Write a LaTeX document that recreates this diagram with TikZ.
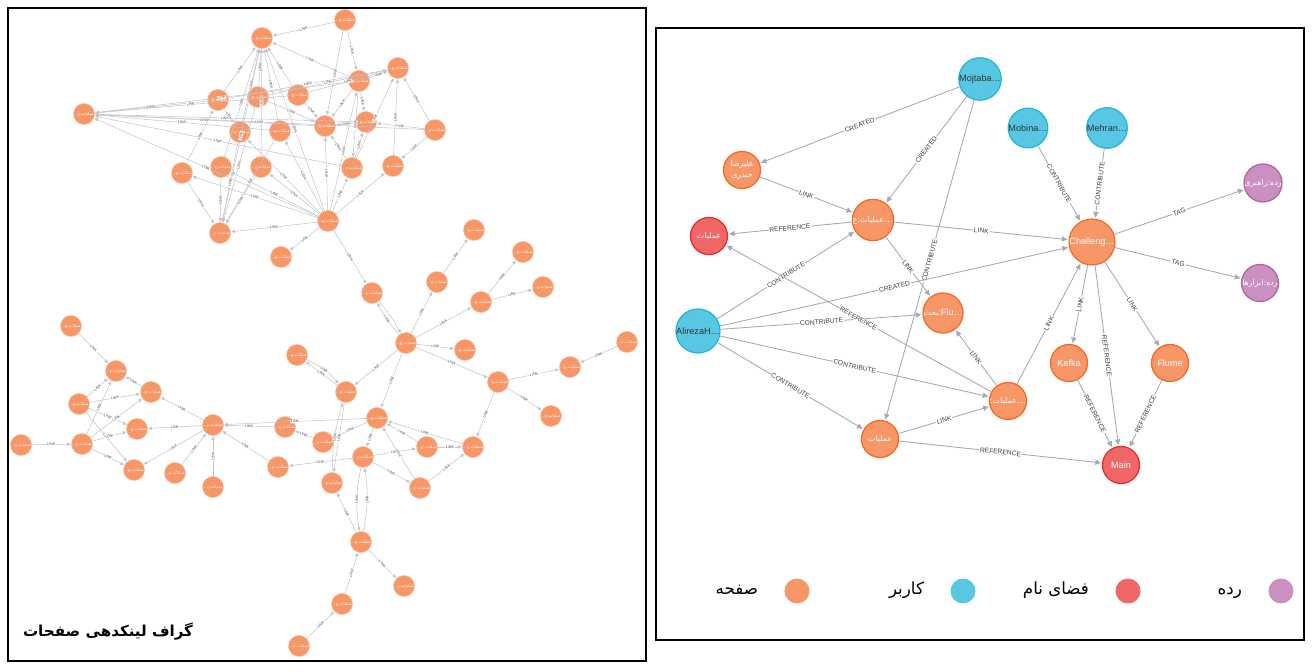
\documentclass[tikz,border=0pt]{standalone}
\usepackage{fontspec}
\setmainfont{Liberation Sans}
\newfontfamily\arabicfont[Script=Arabic]{DejaVu Sans}
\TeXXeTstate=1
\usetikzlibrary{arrows.meta,positioning}

\newcommand{\pers}[1]{{\arabicfont\beginR #1\endR}}
\newcommand{\npers}[1]{{\fontsize{4.5}{5.4}\selectfont\pers{#1}}}

\definecolor{pageC}{HTML}{F79767}
\definecolor{pageB}{HTML}{F36924}
\definecolor{userC}{HTML}{57C7E3}
\definecolor{userB}{HTML}{23B3D7}
\definecolor{nsC}{HTML}{F16667}
\definecolor{nsB}{HTML}{EB2728}
\definecolor{catC}{HTML}{C990C0}
\definecolor{catB}{HTML}{B261A5}
\definecolor{edgeC}{HTML}{A5ABB6}
\definecolor{edgeL}{HTML}{BFC4CC}

\tikzset{
  pgdot/.style={circle,fill=pageC,draw=pageB!45,line width=0.3pt,minimum size=0.42cm,
    inner sep=0pt,text=white,font=\fontsize{2.3}{2.6}\selectfont},
  lnk/.style={draw=edgeL,line width=0.3pt,-{Triangle[length=2pt,width=1.8pt]},shorten >=0.3pt},
  lnklbl/.style={midway,sloped,fill=white,inner sep=0.3pt,font=\fontsize{2.1}{2.3}\selectfont,text=black!70},
  gnode/.style={circle,minimum size=0.74cm,inner sep=0pt,line width=0.7pt,align=center,
    font=\fontsize{5.2}{6}\selectfont},
  page/.style={gnode,fill=pageC,draw=pageB,text=white},
  user/.style={gnode,fill=userC,draw=userB,text=black!80},
  nspace/.style={gnode,fill=nsC,draw=nsB,text=white},
  cat/.style={gnode,fill=catC,draw=catB,text=white},
  rel/.style={draw=edgeC,line width=0.5pt,-{Triangle[length=3.2pt,width=3pt]},shorten >=0.6pt},
  rlbl/.style={midway,sloped,fill=white,inner sep=0.5pt,font=\fontsize{3.8}{4.3}\selectfont,text=black!75},
  legdot/.style={circle,minimum size=0.5cm,inner sep=0pt},
  legtxt/.style={font=\arabicfont\fontsize{9.5}{11}\selectfont,text height=7pt,text depth=2.5pt,
    left=0.4cm of #1}
}

\begin{document}
\begin{tikzpicture}[x=0.02cm,y=-0.02cm]
\useasboundingbox (0,0) rectangle (1313,672);

% panels
\draw[line width=1.1pt] (8,8) rectangle (646,661);
\draw[line width=1.1pt] (656,28) rectangle (1304,640);

% page link graph
\foreach \n/\x/\y in {t1/345/20,t2/262/38,t3/398/68,t4/359/81,t5/84/114,t6/218/100,
  t7/258/97,t8/298/95,t9/325/126,t10/366/122,t11/435/130,t12/240/132,t13/280/131,
  t14/182/173,t15/221/167,t16/261/167,t17/352/168,t18/393/166,t19/328/221,t20/220/233,
  t21/281/257,
  b3/474/230,b4/372/293,b5/437/282,b6/523/252,b7/481/302,b8/543/287,b9/406/343,
  b10/465/350,b11/627/342,b12/570/367,b13/498/382,b14/297/355,b15/346/392,b16/551/416,
  b17/377/418,b18/285/427,b19/323/442,b20/427/447,b21/473/447,b22/363/457,b23/278/467,
  b24/332/483,b25/420/488,b26/361/542,b27/404/586,b28/342/604,b29/299/646,
  c1/71/326,c2/116/371,c3/151/392,c4/79/404,c5/137/429,c6/21/445,c7/82/444,
  c8/213/425,c9/134/470,c10/175/473,c11/213/487}
  \node[pgdot] (\n) at (\x,\y) {\pers{عملیات:ع…}};

\foreach \a/\b in {t1/t2,t1/t4,t1/t9,t6/t2,t7/t2,t12/t2,t13/t2,t15/t2,t16/t2,t19/t2,
  t4/t2,t8/t2,t2/t20,t7/t20,t12/t20,t15/t20,t14/t20,t19/t20,t16/t20,t13/t20,
  t6/t3,t8/t3,t4/t3,t11/t3,t17/t3,t18/t3,t7/t3,t4/t9,t4/t10,t4/t17,t8/t9,t7/t9,
  t10/t9,t11/t10,t11/t18,t17/t9,t17/t10,t6/t5,t8/t5,t4/t5,t9/t5,t10/t5,t11/t5,
  t17/t5,t19/t5,t13/t5,t19/t14,t19/t15,t19/t16,t19/t17,t19/t18,t19/t9,t19/t12,
  t19/t21,t19/t4,t19/t13,t14/t6,t6/t12,
  t19/b4,b9/b5,b5/b3,b9/b7,b7/b6,b7/b8,b9/b10,b9/b13,b11/b12,b13/b12,b13/b16,
  b13/b21,b9/b15,b15/b14,b9/b17,b17/c8,b18/c8,b19/b18,b17/b19,b15/b24,b17/b22,
  b22/b23,b22/b20,b22/b25,b20/b17,b21/b17,b20/b21,b25/b21,b25/b17,b26/b24,b26/b27,
  b28/b26,b29/b28,b23/c8,
  c1/c2,c3/c2,c8/c3,c4/c2,c4/c3,c4/c5,c4/c9,c6/c7,c7/c2,c7/c3,c7/c5,c7/c9,c8/c5,
  c8/c9,c10/c8,c11/c8}
  \draw[lnk] (\a) -- node[lnklbl]{LINK} (\b);

\draw[lnk] (b9) to[bend left=6] node[lnklbl]{LINK} (b4);
\draw[lnk] (b4) to[bend left=6] (b9);
\draw[lnk] (b14) to[bend left=12] node[lnklbl]{LINK} (b15);
\draw[lnk] (b24) to[bend left=8] node[lnklbl]{LINK} (b15);
\draw[lnk] (b22) to[bend right=10] node[lnklbl]{LINK} (b26);
\draw[lnk] (b26) to[bend right=10] node[lnklbl]{LINK} (b22);

\node[font=\arabicfont\bfseries\fontsize{8.6}{10}\selectfont] (title) at (108,631)
  {\pers{گراف لینکدهی صفحات}};

% wiki schema graph
\node[user] (mojtaba) at (980,79) {Mojtaba…};
\node[user] (mobina) at (1028,128) {Mobina…};
\node[user] (mehran) at (1107,128) {Mehran…};
\node[page] (heydari) at (742,170) {\npers{علیرضا}\\\npers{حیدری}};
\node[page] (amalA) at (873,220) {\npers{عملیات:ع}…};
\node[nspace] (amalNs) at (709,236) {\npers{عملیات}};
\node[page] (chall) at (1092,242) {Challeng…};
\node[cat] (cat1) at (1263,183) {\npers{رده:راهبری}};
\node[cat] (cat2) at (1260,283) {\npers{رده:ابزارها}};
\node[user] (alireza) at (698,331) {AlirezaH…};
\node[page] (fluTalk) at (943,313) {\npers{بحث}:Flu…};
\node[page] (kafka) at (1069,363) {Kafka};
\node[page] (flume) at (1170,363) {Flume};
\node[page] (amalB) at (1008,401) {\npers{عملیات:}…};
\node[page] (amalC) at (880,439) {\npers{عملیات}};
\node[nspace] (mainNs) at (1121,465) {Main};

\foreach \a/\b/\l in {mojtaba/heydari/CREATED,mojtaba/amalA/CREATED,
  mojtaba/amalC/CONTRIBUTE,mobina/chall/CONTRIBUTE,mehran/chall/CONTRIBUTE,
  heydari/amalA/LINK,amalA/amalNs/REFERENCE,amalA/chall/LINK,amalA/fluTalk/LINK,
  chall/cat1/TAG,chall/cat2/TAG,alireza/amalA/CONTRIBUTE,alireza/chall/CREATED,
  alireza/fluTalk/CONTRIBUTE,alireza/amalB/CONTRIBUTE,alireza/amalC/CONTRIBUTE,
  amalB/amalNs/REFERENCE,amalB/fluTalk/LINK,amalB/chall/LINK,chall/kafka/LINK,
  chall/flume/LINK,chall/mainNs/REFERENCE,kafka/mainNs/REFERENCE,
  flume/mainNs/REFERENCE,amalC/amalB/LINK,amalC/mainNs/REFERENCE}
  \draw[rel] (\a) -- node[rlbl]{\l} (\b);

% legend
\node[legdot,fill=pageC] (lgPage) at (797,591) {};
\node[legdot,fill=userC] (lgUser) at (963,591) {};
\node[legdot,fill=nsC] (lgNs) at (1128,591) {};
\node[legdot,fill=catC] (lgCat) at (1281,591) {};
\node[legtxt=lgPage] {\pers{صفحه}};
\node[legtxt=lgUser] {\pers{کاربر}};
\node[legtxt=lgNs] {\pers{فضای نام}};
\node[legtxt=lgCat] {\pers{رده}};
\end{tikzpicture}
\end{document}
